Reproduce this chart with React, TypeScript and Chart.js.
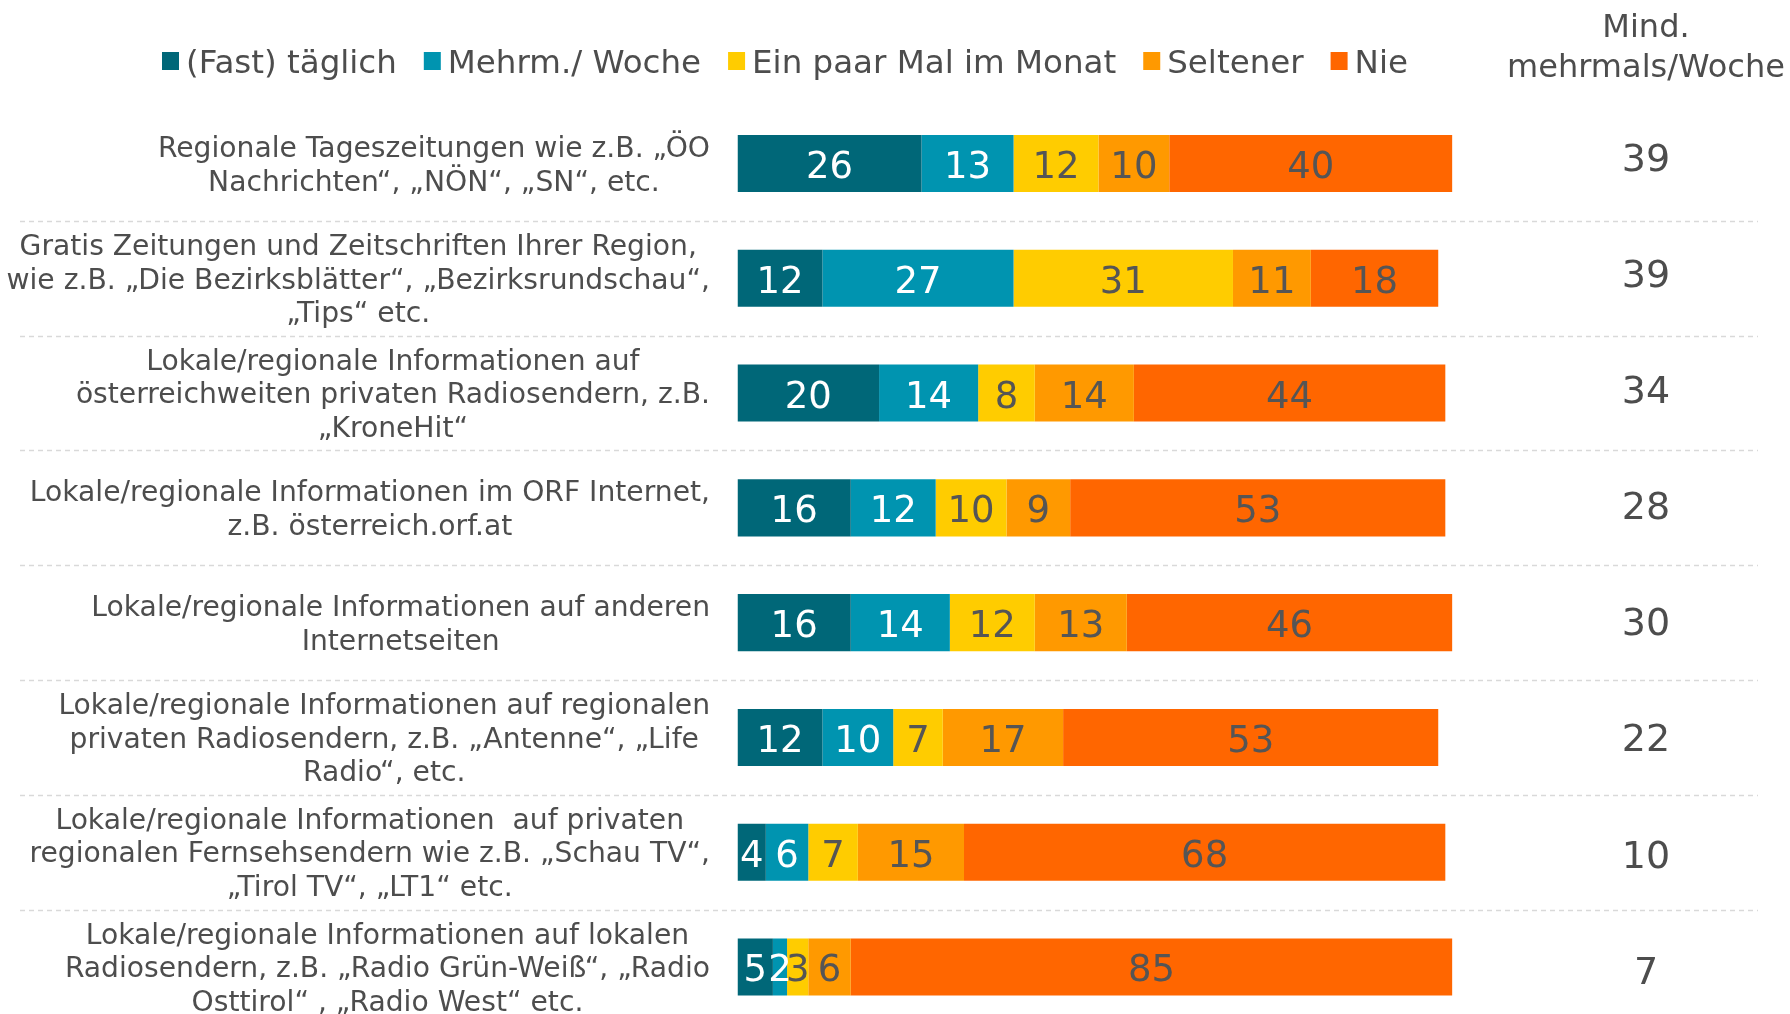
import React, { useEffect, useRef } from "react";
import { Chart, registerables } from "chart.js";

Chart.register(...registerables);

const categories: string[][] = [
  ["Regionale Tageszeitungen wie z.B. „ÖO", "Nachrichten“, „NÖN“, „SN“, etc."],
  ["Gratis Zeitungen und Zeitschriften Ihrer Region,", "wie z.B. „Die Bezirksblätter“, „Bezirksrundschau“,", "„Tips“ etc."],
  ["Lokale/regionale Informationen auf", "österreichweiten privaten Radiosendern, z.B.", "„KroneHit“"],
  ["Lokale/regionale Informationen im ORF Internet,", "z.B. österreich.orf.at"],
  ["Lokale/regionale Informationen auf anderen", "Internetseiten"],
  ["Lokale/regionale Informationen auf regionalen", "privaten Radiosendern, z.B. „Antenne“, „Life", "Radio“, etc."],
  ["Lokale/regionale Informationen  auf privaten", "regionalen Fernsehsendern wie z.B. „Schau TV“,", "„Tirol TV“, „LT1“ etc."],
  ["Lokale/regionale Informationen auf lokalen", "Radiosendern, z.B. „Radio Grün-Weiß“, „Radio", "Osttirol“ , „Radio West“ etc."],
];

const seriesNames = ["(Fast) täglich", "Mehrm./ Woche", "Ein paar Mal im Monat", "Seltener", "Nie"];
const fastTaeglich = [26, 12, 20, 16, 16, 12, 4, 5];
const mehrmWoche = [13, 27, 14, 12, 14, 10, 6, 2];
const einPaarMal = [12, 31, 8, 10, 12, 7, 7, 3];
const seltener = [10, 11, 14, 9, 13, 17, 15, 6];
const nie = [40, 18, 44, 53, 46, 53, 68, 85];
const mindMehrmals = [39, 39, 34, 28, 30, 22, 10, 7];
const rightHeader = ["Mind.", "mehrmals/Woche"];

const seriesColors = ["#006778", "#0094B0", "#FFCC00", "#FF9900", "#FF6600"];
const valueTextColors = ["#ffffff", "#ffffff", "#555555", "#555555", "#555555"];

const FONT = '"DejaVu Sans", Verdana, sans-serif';
const TEXT = "#4d4d4d";
const CAP = 0.729;

const overlayPlugin = {
  id: "overlay",
  afterDatasetsDraw(chart: any) {
    const ctx = chart.ctx;
    ctx.save();
    ctx.textAlign = "center";
    ctx.textBaseline = "alphabetic";
    const size = 37;
    ctx.font = `${size}px ${FONT}`;
    chart.data.datasets.forEach((ds: any, di: number) => {
      const meta = chart.getDatasetMeta(di);
      meta.data.forEach((bar: any, i: number) => {
        const v = ds.data[i];
        const cx = (bar.x + bar.base) / 2;
        ctx.fillStyle = valueTextColors[di];
        ctx.fillText(String(v), cx, bar.y + (CAP * size) / 2 + 1);
      });
    });
    ctx.restore();
  },
  afterDraw(chart: any) {
    const ctx = chart.ctx;
    const yScale = chart.scales.y;
    const area = chart.chartArea;
    const n = chart.data.labels.length;
    ctx.save();

    // dashed separators between rows
    ctx.strokeStyle = "#d9d9d9";
    ctx.lineWidth = 1.5;
    ctx.setLineDash([5, 4]);
    for (let i = 0; i < n - 1; i++) {
      const y = Math.round((yScale.getPixelForValue(i) + yScale.getPixelForValue(i + 1)) / 2) + 0.5;
      ctx.beginPath();
      ctx.moveTo(20, y);
      ctx.lineTo(1758, y);
      ctx.stroke();
    }
    ctx.setLineDash([]);

    // category labels: block right-aligned, lines centred in block
    const lsize = 28.2;
    ctx.font = `${lsize}px ${FONT}`;
    ctx.fillStyle = TEXT;
    ctx.textAlign = "center";
    ctx.textBaseline = "alphabetic";
    const rightEdge = area.left - 27.5;
    const lineH = 33.5;
    chart.data.labels.forEach((lab: string[], i: number) => {
      const lines = Array.isArray(lab) ? lab : [lab];
      const maxW = Math.max(...lines.map((l) => ctx.measureText(l).width));
      const cx = rightEdge - maxW / 2;
      const cy = yScale.getPixelForValue(i);
      lines.forEach((l, k) => {
        const yc = cy + (k - (lines.length - 1) / 2) * lineH;
        ctx.fillText(l, cx, yc + (CAP * lsize) / 2);
      });
    });

    // right column values (column rows spaced slightly wider than the bar rows)
    const vsize = 38;
    ctx.font = `${vsize}px ${FONT}`;
    const mid = (yScale.getPixelForValue(0) + yScale.getPixelForValue(n - 1)) / 2;
    mindMehrmals.forEach((v, i) => {
      const cy = mid + (yScale.getPixelForValue(i) - mid) * 1.012 - 2;
      ctx.fillText(String(v), 1646, cy + (CAP * vsize) / 2);
    });

    // right column header
    const hsize = 32;
    ctx.font = `${hsize}px ${FONT}`;
    const hy = [25, 65];
    rightHeader.forEach((t, k) => {
      ctx.fillText(t, 1646, hy[k] + (CAP * hsize) / 2);
    });

    // legend
    const gsize = 32.5;
    ctx.font = `${gsize}px ${FONT}`;
    ctx.textAlign = "left";
    let x = 162;
    const ly = 61;
    chart.data.datasets.forEach((ds: any) => {
      ctx.fillStyle = ds.backgroundColor;
      ctx.fillRect(x, ly - 9, 17, 18);
      ctx.fillStyle = TEXT;
      ctx.fillText(ds.label, x + 24, ly + (CAP * gsize) / 2);
      x += 24 + ctx.measureText(ds.label).width + 27;
    });

    ctx.restore();
  },
};

export default function App() {
  const canvasRef = useRef<HTMLCanvasElement | null>(null);

  useEffect(() => {
    const canvas = canvasRef.current;
    if (!canvas) return;
    const seriesValues = [fastTaeglich, mehrmWoche, einPaarMal, seltener, nie];
    const chart = new Chart(canvas, {
      type: "bar",
      data: {
        labels: categories as any,
        datasets: seriesNames.map((name, i) => ({
          label: name,
          data: seriesValues[i],
          backgroundColor: seriesColors[i],
          borderWidth: 0,
          categoryPercentage: 1,
          barPercentage: 0.497,
        })),
      },
      options: {
        indexAxis: "y",
        responsive: false,
        maintainAspectRatio: false,
        devicePixelRatio: 1,
        animation: false,
        layout: { padding: { left: 737.5, right: 337.6, top: 106.1, bottom: 15.6 } },
        scales: {
          x: { stacked: true, min: 0, max: 101, display: false },
          y: { stacked: true, display: false },
        },
        plugins: {
          legend: { display: false },
          tooltip: { enabled: false },
          title: { display: false },
        },
      },
      plugins: [overlayPlugin],
    });
    return () => chart.destroy();
  }, []);

  return (
    <div
      style={{
        position: "absolute",
        left: 0,
        top: 0,
        width: 1790,
        height: 1014,
        overflow: "hidden",
        background: "#ffffff",
      }}
    >
      <canvas ref={canvasRef} width={1790} height={1040} style={{ display: "block" }} />
    </div>
  );
}
